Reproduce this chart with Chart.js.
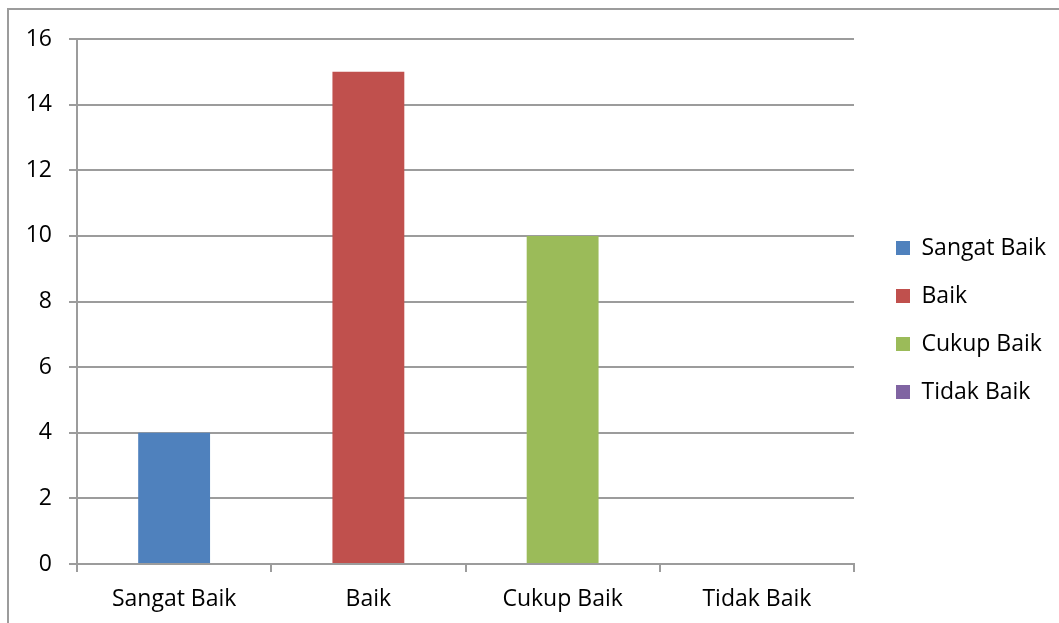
<!DOCTYPE html>
<html>
<head>
<meta charset="utf-8">
<script src="https://cdn.jsdelivr.net/npm/chart.js@4/dist/chart.umd.min.js"></script>
<style>
  html, body { margin: 0; padding: 0; background: #fff; overflow: hidden; }
  #marco {
    position: absolute; left: 7px; top: 8px; width: 1200px; height: 800px;
    border-left: 2px solid #9c9c9c; border-top: 2px solid #9c9c9c;
  }
  #grafico { position: absolute; left: 0; top: 0; }
</style>
</head>
<body>
<div id="marco"></div>
<canvas id="grafico" width="1059" height="623"></canvas>
<script>
// Datos del gráfico
const categorias = ['Sangat Baik', 'Baik', 'Cukup Baik', 'Tidak Baik'];
const valores = [4, 15, 10, 0];
const colores = ['#4F81BD', '#C0504D', '#9BBB59', '#8064A2'];
const ticksY = [0, 2, 4, 6, 8, 10, 12, 14, 16];

const gris = '#9c9c9c';
const fuente = { family: "'Open Sans', sans-serif", size: 23 };

Chart.defaults.font.family = fuente.family;
Chart.defaults.color = '#000';

const ctx = document.getElementById('grafico').getContext('2d');
new Chart(ctx, {
  type: 'bar',
  data: {
    labels: categorias,
    datasets: [{
      label: 'Nilai',
      data: valores,
      backgroundColor: colores,
      borderWidth: 0,
      barPercentage: 0.37,
      categoryPercentage: 1
    }]
  },
  options: {
    responsive: false,
    animation: false,
    layout: { padding: { top: 39, left: 0, right: 9, bottom: 0 } },
    plugins: {
      tooltip: { enabled: false },
      legend: {
        position: 'right',
        fullSize: false,
        maxWidth: 179,
        title: { display: true, text: ' ', font: { size: 10, lineHeight: 1 }, padding: { top: 27, bottom: 0 } },
        labels: {
          boxWidth: 14,
          boxHeight: 14,
          padding: 25,
          color: '#000',
          font: fuente,
          generateLabels: () => categorias.map((c, i) => ({
            text: c,
            fillStyle: colores[i],
            strokeStyle: colores[i],
            lineWidth: 0,
            hidden: false,
            index: i,
            datasetIndex: 0
          }))
        }
      }
    },
    scales: {
      x: {
        grid: { display: true, drawOnChartArea: false, drawTicks: true, tickLength: 8, offset: true, color: gris, lineWidth: 2 },
        border: { display: true, color: gris, width: 2 },
        ticks: { font: fuente, color: '#000', padding: 14 },
        afterFit: s => { s.height = 59; }
      },
      y: {
        min: 0,
        max: 16,
        afterBuildTicks: s => { s.ticks = ticksY.map(v => ({ value: v })); },
        grid: { color: gris, lineWidth: 2, tickLength: 8 },
        border: { display: true, color: gris, width: 2 },
        ticks: { font: fuente, color: '#000', padding: 17 },
        afterFit: s => { s.width = 77; }
      },
      // Espacio entre el área del gráfico y la leyenda
      y2: {
        type: 'linear',
        position: 'right',
        display: true,
        grid: { display: false },
        border: { display: false },
        ticks: { display: false },
        afterFit: s => { s.width = 17; }
      }
    }
  }
});
</script>
</body>
</html>
